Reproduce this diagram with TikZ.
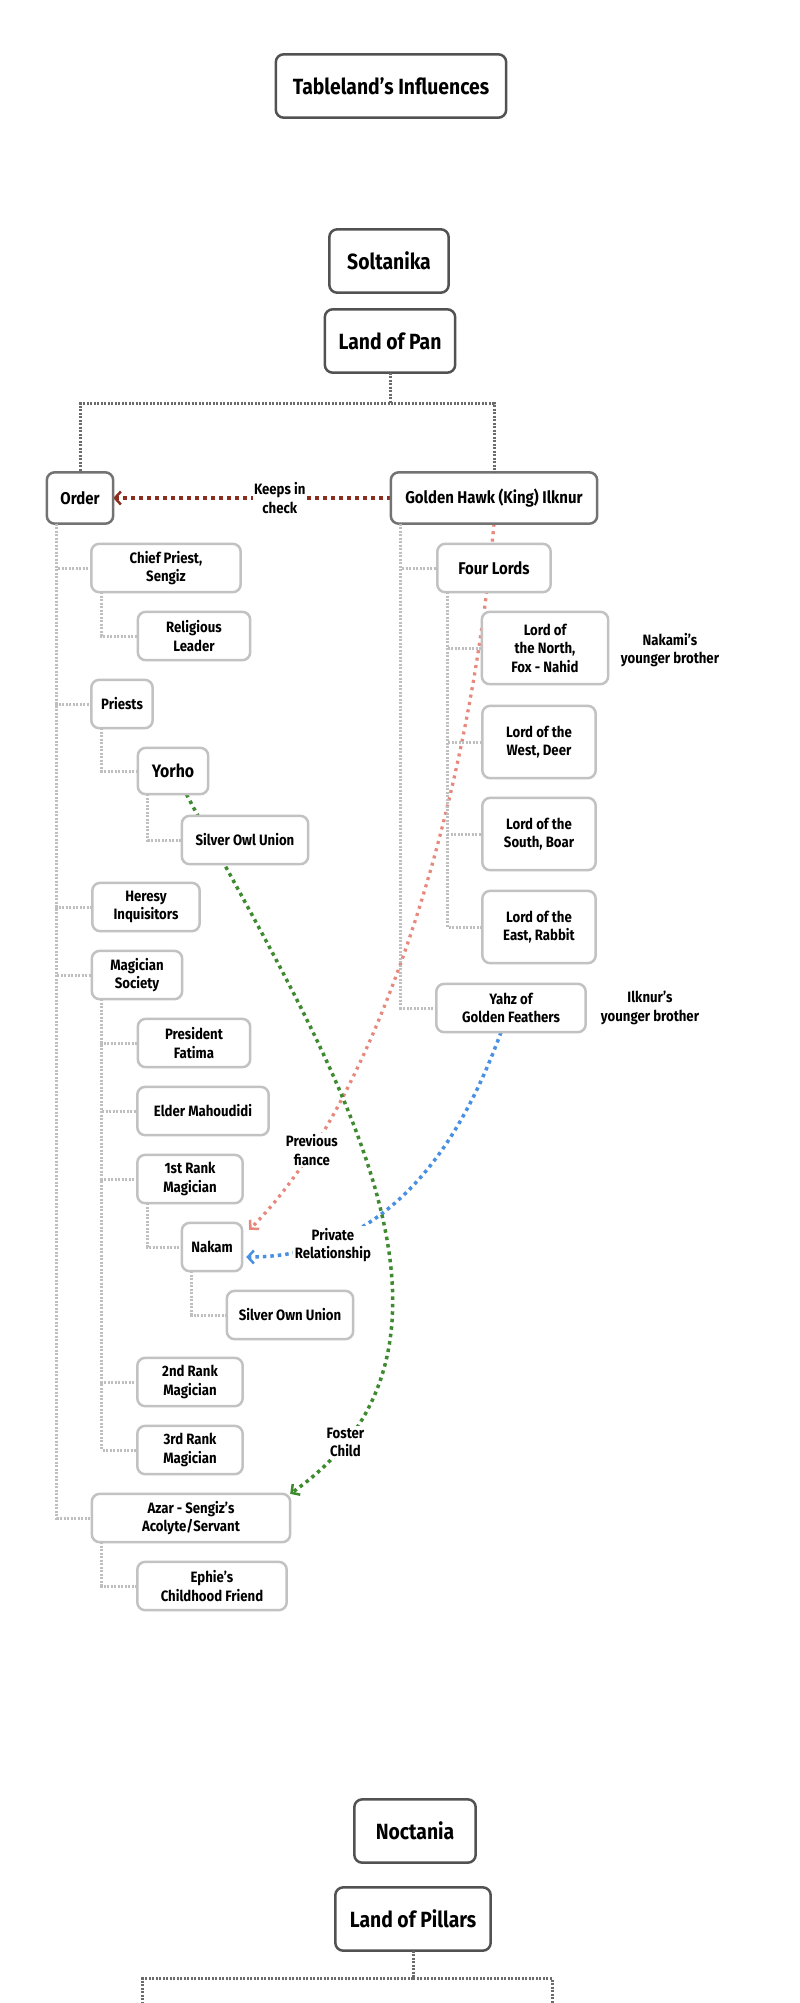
\documentclass[tikz,border=0pt]{standalone}
\usepackage{fontspec}
\setmainfont{Fira Sans}[FakeStretch=0.88]
\usetikzlibrary{arrows.meta}
\pgfdeclarelayer{back}
\pgfsetlayers{back,main}
\definecolor{keepred}{HTML}{8B2E1F}
\definecolor{fiancepink}{HTML}{E8877C}
\definecolor{secretblue}{HTML}{4A90E2}
\definecolor{fostergreen}{HTML}{3E8A2E}

\begin{document}
\begin{tikzpicture}[x=1pt, y=-1pt,
  topbox/.style={fill=white, inner sep=0pt, minimum height=63pt, font=\fontsize{22}{25}\selectfont\bfseries},
  headbox/.style={fill=white, inner sep=0pt, minimum height=51pt, font=\fontsize{17}{20}\selectfont\bfseries},
  subbox/.style={fill=white, inner sep=0pt, align=center, minimum height=48pt, font=\fontsize{15}{18.5}\selectfont\bfseries},
  note/.style={align=center, font=\fontsize{15}{18.5}\selectfont\bfseries},
  lbl/.style={fill=white, inner sep=1.5pt, align=center, font=\fontsize{15}{18.5}\selectfont\bfseries},
  topline/.style={draw=black!68, line width=2.5pt},
  headline/.style={draw=black!55, line width=2.5pt},
  subline/.style={draw=black!24, line width=2.5pt},
  mainline/.style={draw=black!58, line width=3pt, dash pattern=on 2pt off 1.5pt},
  treeline/.style={draw=black!25, line width=3pt, dash pattern=on 2pt off 1.5pt},
  tip/.style={-{Straight Barb[length=6pt, width=13pt, line width=2.5pt]}},
  keepline/.style={draw=keepred, line width=3.5pt, dash pattern=on 3.5pt off 4.5pt, tip},
  pinkline/.style={draw=fiancepink, line width=3.3pt, dash pattern=on 3pt off 4.5pt, tip},
  blueline/.style={draw=secretblue, line width=3.5pt, dash pattern=on 3.5pt off 4pt, tip},
  greenline/.style={draw=fostergreen, line width=3.5pt, dash pattern=on 3.5pt off 4pt, tip}]
\useasboundingbox (0,0) rectangle (800,2003);

\node[topbox, minimum width=230pt] (title) at (391,86) {Tableland’s Influences};
\node[topbox, minimum width=119pt] (soltanika) at (389,261) {Soltanika};
\node[topbox, minimum width=130pt] (pan) at (390,341) {Land of Pan};

\node[headbox, minimum width=66pt] (order) at (80,498) {Order};
\node[headbox, minimum width=206pt] (hawk) at (494,498) {Golden Hawk (King) Ilknur};

\node[subbox, minimum width=149pt] (chief) at (166,568) {Chief Priest,\\Sengiz};
\node[subbox, minimum width=112pt] (religious) at (194,636) {Religious\\Leader};
\node[subbox, minimum width=61pt] (priests) at (122,704) {Priests};
\node[subbox, minimum width=70pt, minimum height=46pt, font=\fontsize{18}{20}\selectfont\bfseries] (yorho) at (173,771) {Yorho};
\node[subbox, minimum width=126pt] (silverowl) at (245,840) {Silver Owl Union};
\node[subbox, minimum width=107pt] (heresy) at (146,907) {Heresy\\Inquisitors};
\node[subbox, minimum width=90pt] (magsoc) at (137,975) {Magician\\Society};
\node[subbox, minimum width=112pt] (president) at (194,1043) {President\\Fatima};
\node[subbox, minimum width=131pt] (elder) at (203,1111) {Elder Mahoudidi};
\node[subbox, minimum width=105pt] (rank1) at (190,1179) {1st Rank\\Magician};
\node[subbox, minimum width=60pt] (nakam) at (212,1247) {Nakam};
\node[subbox, minimum width=126pt] (silverown) at (290,1315) {Silver Own Union};
\node[subbox, minimum width=105pt] (rank2) at (190,1382) {2nd Rank\\Magician};
\node[subbox, minimum width=105pt] (rank3) at (190,1450) {3rd Rank\\Magician};
\node[subbox, minimum width=198pt] (azar) at (191,1518) {Azar - Sengiz’s\\Acolyte/Servant};
\node[subbox, minimum width=149pt] (ephie) at (212,1586) {Ephie’s\\Childhood Friend};

\node[subbox, minimum width=113pt, font=\fontsize{17}{20}\selectfont\bfseries] (fourlords) at (494,568) {Four Lords};
\node[subbox, minimum width=126pt, minimum height=72pt] (north) at (545,648) {Lord of\\the North,\\Fox - Nahid};
\node[subbox, minimum width=113pt, minimum height=72pt] (west) at (539,742) {Lord of the\\West, Deer};
\node[subbox, minimum width=113pt, minimum height=72pt] (south) at (539,834) {Lord of the\\South, Boar};
\node[subbox, minimum width=113pt, minimum height=72pt] (east) at (539,927) {Lord of the\\East, Rabbit};
\node[subbox, minimum width=149pt] (yahz) at (511,1008) {Yahz of\\Golden Feathers};
\node[note] (nakami) at (670,650) {Nakami’s\\younger brother};
\node[note] (ilknur) at (650,1008) {Ilknur’s\\younger brother};

\node[topbox, minimum width=121pt] (noctania) at (415,1831) {Noctania};
\node[topbox, minimum width=155pt] (pillars) at (413,1919) {Land of Pillars};
\coordinate (pillarsleft) at (142,2003);
\coordinate (pillarsright) at (552,2003);

\foreach \n in {title, soltanika, pan, noctania, pillars}
  \draw[topline] (\n.west) [rounded corners=8pt] -- (\n.south west) -- (\n.south east) -- (\n.north east) -- (\n.north west) [sharp corners] -- cycle;
\foreach \n in {order, hawk}
  \draw[headline] (\n.west) [rounded corners=8pt] -- (\n.south west) -- (\n.south east) -- (\n.north east) -- (\n.north west) [sharp corners] -- cycle;
\foreach \n in {chief, religious, priests, yorho, silverowl, heresy, magsoc, president, elder, rank1, nakam, silverown, rank2, rank3, azar, ephie, fourlords, north, west, south, east, yahz}
  \draw[subline] (\n.west) [rounded corners=8pt] -- (\n.south west) -- (\n.south east) -- (\n.north east) -- (\n.north west) [sharp corners] -- cycle;

\draw[mainline] (pan.south) -- ++(0,31) -| (order.north);
\draw[mainline] (pan.south) -- ++(0,31) -| (hawk.north);
\draw[mainline] (pillars.south) -- ++(0,28) -| (pillarsleft);
\draw[mainline] (pillars.south) -- ++(0,28) -| (pillarsright);

\foreach \p/\c in {order/chief, order/priests, order/heresy, order/magsoc, order/azar,
    chief/religious, priests/yorho, yorho/silverowl,
    magsoc/president, magsoc/elder, magsoc/rank1, magsoc/rank2, magsoc/rank3,
    rank1/nakam, nakam/silverown, azar/ephie,
    hawk/fourlords, hawk/yahz, fourlords/north, fourlords/west, fourlords/south, fourlords/east}
  \draw[treeline] ([xshift=10pt]\p.south west) |- (\c.west);

\begin{pgfonlayer}{back}
\draw[keepline] (hawk.west) -- (order.east) node[lbl, pos=0.4] {Keeps in\\check};
\draw[pinkline] (hawk.south) .. controls +(-25,280) and +(130,-130) .. ([shift={(7,7)}]nakam.north east) node[lbl, pos=0.83] {Previous\\fiance};
\draw[blueline] ([xshift=-10pt]yahz.south) .. controls +(-46,126) and +(134,0) .. ([shift={(4,10)}]nakam.east) node[lbl, pos=0.76, yshift=-4pt] {Private\\Relationship};
\draw[greenline] (yorho.-60) .. controls +(129,243) and +(225,-158) .. (azar.north east) node[lbl, pos=0.9] {Foster\\Child};
\end{pgfonlayer}
\end{tikzpicture}
\end{document}
